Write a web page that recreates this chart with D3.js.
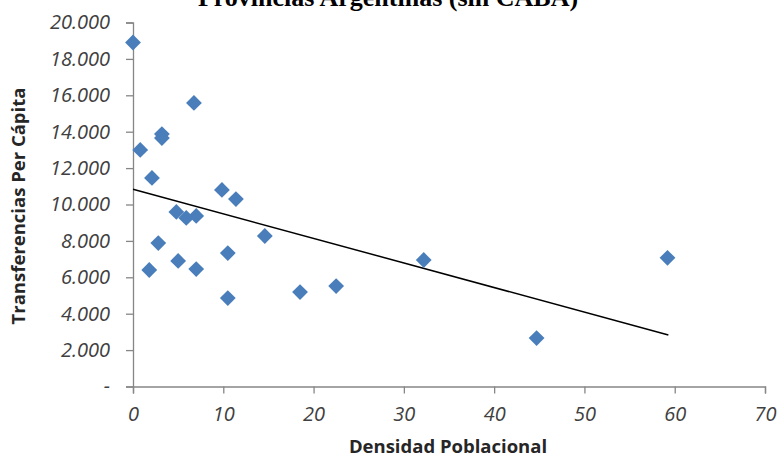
<!DOCTYPE html>
<html><head><meta charset="utf-8">
<script src="https://cdn.jsdelivr.net/npm/d3@7"></script>
<style>body{margin:0;background:#fff}svg{display:block}</style>
</head><body>
<script>
const densidad = [0.0, 0.8, 2.1, 1.8, 2.8, 3.2, 3.2, 6.75, 4.8, 5.9, 7.0, 5.0, 7.0, 9.85, 11.4, 10.5, 10.5, 14.6, 18.5, 22.5, 32.2, 44.7, 59.2];
const transferencias = [18900, 13000, 11460, 6400, 7880, 13870, 13650, 15580, 9590, 9260, 9370, 6900, 6450, 10800, 10300, 7330, 4860, 8270, 5190, 5520, 6950, 2660, 7070];
const trendX = [0, 59.3];
const trendY = [10840, 2830];
const xTicks = [0, 10, 20, 30, 40, 50, 60, 70];
const yTicks = [0, 2000, 4000, 6000, 8000, 10000, 12000, 14000, 16000, 18000, 20000];
const yTickLabels = ["-", "2.000", "4.000", "6.000", "8.000", "10.000", "12.000", "14.000", "16.000", "18.000", "20.000"];
const titleText = "Provincias Argentinas (sin CABA)";
const xTitle = "Densidad Poblacional";
const yTitle = "Transferencias Per Cápita";

const W = 778, H = 460;
const svg = d3.select("body").append("svg").attr("width", W).attr("height", H);
const x = d3.scaleLinear().domain([0, 70]).range([133, 765]);
const y = d3.scaleLinear().domain([0, 20000]).range([386.5, 22.5]);

const axisColor = "#868686";
const labelFont = "'Open Sans', sans-serif";

// title (partially cut off at the top, as in the source)
svg.append("text").attr("x", 388).attr("y", 6).attr("text-anchor", "middle")
  .style("font-family", "'Liberation Serif', serif").style("font-weight", "bold")
  .style("font-size", "26px").attr("fill", "#000").text(titleText);

// y axis
const yAxis = svg.append("g").attr("transform", `translate(${x(0)},0)`)
  .call(d3.axisLeft(y).tickValues(yTicks).tickSize(7).tickPadding(16).tickFormat((d, i) => yTickLabels[i]));
yAxis.select(".domain").attr("stroke", axisColor).attr("stroke-width", 1.3);
yAxis.selectAll(".tick line").attr("stroke", axisColor).attr("stroke-width", 1.3);
yAxis.selectAll(".tick text").attr("fill", "#404040").style("font-family", labelFont)
  .style("font-style", "italic").style("font-size", "20px");

// x axis
const xAxis = svg.append("g").attr("transform", `translate(0,${y(0)})`)
  .call(d3.axisBottom(x).tickValues(xTicks).tickSize(7).tickPadding(13).tickFormat(d3.format("d")));
xAxis.select(".domain").attr("stroke", axisColor).attr("stroke-width", 1.3);
xAxis.selectAll(".tick line").attr("stroke", axisColor).attr("stroke-width", 1.3);
xAxis.selectAll(".tick text").attr("fill", "#404040").style("font-family", labelFont)
  .style("font-style", "italic").style("font-size", "20px");

// trend line
svg.append("line")
  .attr("x1", x(trendX[0])).attr("y1", y(trendY[0]))
  .attr("x2", x(trendX[1])).attr("y2", y(trendY[1]))
  .attr("stroke", "#000").attr("stroke-width", 1.5);

// points
const sym = d3.symbol().type(d3.symbolSquare).size(125);
svg.append("g").selectAll("path").data(densidad.map((d, i) => [d, transferencias[i]])).join("path")
  .attr("d", sym)
  .attr("transform", d => `translate(${x(d[0])},${y(d[1])}) rotate(45)`)
  .attr("fill", "#4a7ebb");

// axis titles
svg.append("text").attr("x", 448).attr("y", 453).attr("text-anchor", "middle")
  .style("font-family", labelFont).style("font-weight", "bold").style("font-size", "18.5px")
  .attr("fill", "#262626").text(xTitle);
svg.append("text").attr("transform", "translate(25,206) rotate(-90)").attr("text-anchor", "middle")
  .style("font-family", labelFont).style("font-weight", "bold").style("font-size", "18.5px")
  .attr("fill", "#262626").text(yTitle);
</script>
</body></html>
